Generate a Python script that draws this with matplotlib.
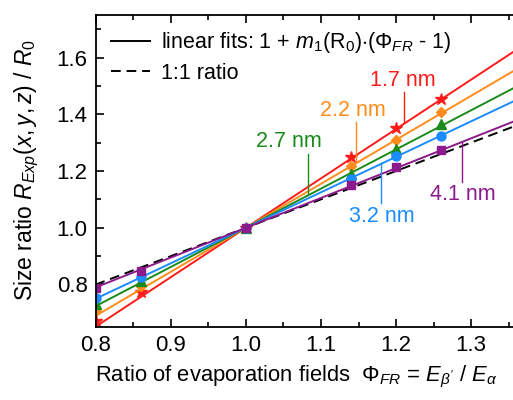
import numpy as np
import matplotlib
matplotlib.use("Agg")
import matplotlib.pyplot as plt
from matplotlib.lines import Line2D

plt.rcParams['font.family'] = ['Liberation Sans', 'DejaVu Sans']
plt.rcParams['mathtext.fontset'] = 'custom'
plt.rcParams['mathtext.rm'] = 'Liberation Sans'
plt.rcParams['mathtext.it'] = 'Liberation Sans:italic'
plt.rcParams['mathtext.bf'] = 'Liberation Sans:bold'

# field ratios where measurements were taken
phi = [0.80, 0.86, 1.00, 1.14, 1.20, 1.26]

sizes = ["1.7 nm", "2.2 nm", "2.7 nm", "3.2 nm", "4.1 nm"]
ratio_17 = [0.670, 0.773, 1.0, 1.249, 1.353, 1.453]
ratio_22 = [0.705, 0.793, 1.0, 1.218, 1.311, 1.409]
ratio_27 = [0.731, 0.811, 1.0, 1.191, 1.279, 1.364]
ratio_32 = [0.752, 0.826, 1.0, 1.173, 1.253, 1.325]
ratio_41 = [0.789, 0.849, 1.0, 1.152, 1.214, 1.273]
slopes = [1.74, 1.55, 1.38, 1.25, 1.05]

colors = ['#ff1a1a', '#ff8c1a', '#1a8a1a', '#1a8cff', '#8c1a8c']
markers = ['*', 'D', '^', 'o', 's']
msizes = [9, 5.5, 6.5, 6.5, 5.5]

fig = plt.figure(figsize=(5.13, 4.0), dpi=100)
ax = fig.add_axes([0.187, 0.1825, 0.819, 0.78])

xfit = np.array([0.78, 1.40])
ax.plot(xfit, xfit, ls='--', color='black', lw=1.4, dashes=(5, 3))

all_ratios = [ratio_17, ratio_22, ratio_27, ratio_32, ratio_41]
for r, m, c, mk, ms in zip(all_ratios, slopes, colors, markers, msizes):
    ax.plot(xfit, 1 + m * (xfit - 1), color=c, lw=1.4)
    ax.plot(phi, r, ls='none', marker=mk, color=c, ms=ms)

# labels with leader lines: text x, text y, line x, line y-range (data units)
ann = [
    (1.209, 1.518, 1.210, 1.371, 1.479),
    (1.143, 1.413, 1.147, 1.227, 1.371),
    (1.057, 1.304, 1.083, 1.115, 1.259),
    (1.181, 1.041, 1.180, 1.087, 1.227),
    (1.289, 1.118, 1.288, 1.160, 1.301),
]
for txt, (tx, ty, lx, y0, y1), c in zip(sizes, ann, colors):
    ax.text(tx, ty, txt, color=c, fontsize=15.5, ha='center', va='center')
    ax.plot([lx, lx], [y0, y1], color=c, lw=1.0)

ax.set_xlim(0.8, 1.36)
ax.set_ylim(0.65, 1.75)
ax.set_xticks([0.8, 0.9, 1.0, 1.1, 1.2, 1.3])
ax.set_xticks(np.arange(0.85, 1.36, 0.1), minor=True)
ax.set_yticks([0.8, 1.0, 1.2, 1.4, 1.6])
ax.set_yticks([0.7, 0.9, 1.1, 1.3, 1.5, 1.7], minor=True)
ax.tick_params(which='both', direction='in', top=True, labelsize=16, width=1.2)
ax.tick_params(which='major', length=6, pad=6)
ax.tick_params(which='minor', length=3.5)
ax.xaxis.set_major_formatter(matplotlib.ticker.FormatStrFormatter('%.1f'))
ax.yaxis.set_major_formatter(matplotlib.ticker.FormatStrFormatter('%.1f'))
for s in ax.spines.values():
    s.set_linewidth(1.3)

handles = [Line2D([], [], color='black', lw=1.4),
           Line2D([], [], color='black', lw=1.4, ls='--', dashes=(5, 3))]
labels = [r"linear fits: 1 + $m_1$(R$_0$)$\cdot$($\Phi_{FR}$ - 1)", "1:1 ratio"]
ax.legend(handles, labels, loc='upper left', frameon=False, fontsize=15.5,
          handlelength=1.8, handletextpad=0.5, borderaxespad=0.3, labelspacing=0.35)

fig.text(0.185, 0.057, r"Ratio of evaporation fields  $\Phi_{FR}$ = $E_{\beta'}$ / $E_{\alpha}$",
         fontsize=15.8, ha='left', va='center')
fig.text(0.052, 0.575, r"Size ratio $R_{Exp}(x,y,z)$ / $R_0$", fontsize=16.5,
         rotation=90, ha='center', va='center')

fig.savefig("out.png", dpi=100)
